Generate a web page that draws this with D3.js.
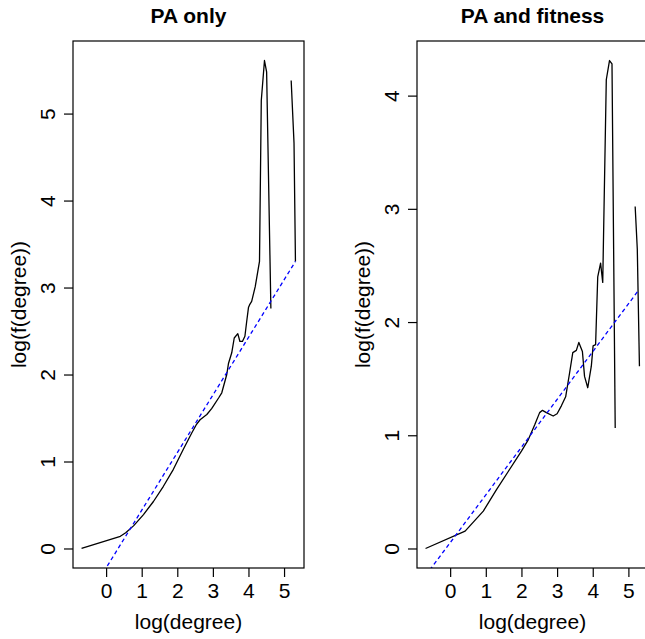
<!DOCTYPE html>
<html>
<head>
<meta charset="utf-8">
<script src="https://cdn.jsdelivr.net/npm/d3@7"></script>
<style>
  body { margin: 0; background: #fff; }
  svg { display: block; }
  text { font-family: "Liberation Sans", Arial, Helvetica, sans-serif; fill: #000; }
</style>
</head>
<body>
<div id="chart"></div>
<script>
// chart values
var paX = [-0.69, 0.40, 0.55, 0.77, 1.05, 1.33, 1.61, 1.89, 2.17, 2.41, 2.53, 2.64, 2.83, 2.97, 3.16, 3.25, 3.39, 3.44, 3.53, 3.60, 3.70, 3.76, 3.83, 3.90, 3.95, 4.00, 4.03, 4.09, 4.19, 4.31, 4.36, 4.45, 4.51, 4.63, 4.90, 5.20, 5.28, 5.32];
var paY = [0, 0.14, 0.18, 0.26, 0.39, 0.54, 0.715, 0.91, 1.14, 1.33, 1.42, 1.48, 1.54, 1.61, 1.73, 1.79, 2.00, 2.13, 2.25, 2.42, 2.47, 2.38, 2.38, 2.44, 2.61, 2.77, 2.80, 2.84, 3.01, 3.30, 5.15, 5.61, 5.48, 2.76, null, 5.38, 4.66, 3.30];
var paFitX = [-0.69, 5.32];
var paFitY = [-0.68, 3.30];

var pfX = [-0.69, 0.42, 0.93, 1.30, 1.63, 2.00, 2.19, 2.37, 2.51, 2.59, 2.70, 2.89, 3.00, 3.12, 3.24, 3.35, 3.44, 3.54, 3.61, 3.71, 3.77, 3.86, 3.96, 4.01, 4.08, 4.14, 4.22, 4.28, 4.38, 4.47, 4.54, 4.63, 4.90, 5.19, 5.25, 5.31];
var pfY = [0, 0.153, 0.33, 0.52, 0.68, 0.86, 0.96, 1.09, 1.20, 1.22, 1.20, 1.17, 1.19, 1.26, 1.34, 1.55, 1.73, 1.75, 1.82, 1.74, 1.52, 1.42, 1.61, 1.79, 1.80, 2.40, 2.52, 2.35, 4.14, 4.31, 4.28, 1.065, null, 3.02, 2.64, 1.61];
var pfFitX = [-0.69, 5.26];
var pfFitY = [-0.24, 2.27];

var titles = ["PA only", "PA and fitness"];
var xTicks = [0, 1, 2, 3, 4, 5];
var paYTicks = [0, 1, 2, 3, 4, 5];
var pfYTicks = [0, 1, 2, 3, 4];
var xLabel = "log(degree)";
var yLabel = "log(f(degree))";

var W = 645, H = 639;
var svg = d3.select("#chart").append("svg")
    .attr("width", W)
    .attr("height", H);

// R style range: data extent plus 4%
function pad(ext) {
  var d = (ext[1] - ext[0]) * 0.04;
  return [ext[0] - d, ext[1] + d];
}

function panel(id, left, xs, ys, fx, fy, yTicks, title) {
  var top = 41, bottom = 568, right = left + 231;
  var x = d3.scaleLinear().domain(pad(d3.extent(xs))).range([left, right]);
  var y = d3.scaleLinear().domain(pad(d3.extent(ys.filter(function(v) { return v != null; })))).range([bottom, top]);

  svg.append("clipPath").attr("id", "clip" + id)
    .append("rect").attr("x", left).attr("y", top)
    .attr("width", right - left).attr("height", bottom - top);

  var pts = xs.map(function(v, i) { return {x: v, y: ys[i]}; });
  var line = d3.line()
    .defined(function(d) { return d.y != null; })
    .x(function(d) { return x(d.x); })
    .y(function(d) { return y(d.y); });

  svg.append("path")
    .datum(pts)
    .attr("d", line)
    .attr("fill", "none")
    .attr("stroke", "#000")
    .attr("stroke-width", 1.3)
    .attr("stroke-linejoin", "round");

  var fit = fx.map(function(v, i) { return {x: v, y: fy[i]}; });
  svg.append("path")
    .datum(fit)
    .attr("clip-path", "url(#clip" + id + ")")
    .attr("d", line)
    .attr("fill", "none")
    .attr("stroke", "#0000ff")
    .attr("stroke-width", 1.3)
    .attr("stroke-dasharray", "4,3");

  // box
  svg.append("rect")
    .attr("x", left).attr("y", top)
    .attr("width", right - left).attr("height", bottom - top)
    .attr("fill", "none").attr("stroke", "#000").attr("stroke-width", 1.2);

  // x axis
  var gx = svg.append("g")
    .attr("transform", "translate(0," + bottom + ")")
    .call(d3.axisBottom(x).tickValues(xTicks).tickSize(9).tickPadding(6).tickFormat(d3.format("d")));
  gx.select(".domain").remove();
  gx.selectAll("line").attr("stroke-width", 1.2);
  gx.selectAll("text").style("font-size", "21px")
    .style("font-family", "'Liberation Sans', Arial, sans-serif");

  // y axis, labels turned like R's default
  var gy = svg.append("g")
    .attr("transform", "translate(" + left + ",0)")
    .call(d3.axisLeft(y).tickValues(yTicks).tickSize(9).tickFormat(d3.format("d")));
  gy.select(".domain").remove();
  gy.selectAll("line").attr("stroke-width", 1.2);
  gy.selectAll("text").remove();
  gy.selectAll(".tick").append("text")
    .attr("transform", "translate(-18,0) rotate(-90)")
    .attr("text-anchor", "middle")
    .attr("fill", "#000")
    .style("font-size", "21px")
    .style("font-family", "'Liberation Sans', Arial, sans-serif")
    .text(function(d) { return d; });

  svg.append("text")
    .attr("x", (left + right) / 2).attr("y", 629)
    .attr("text-anchor", "middle")
    .style("font-size", "21px")
    .text(xLabel);

  svg.append("text")
    .attr("transform", "translate(" + (left - 47) + "," + ((top + bottom) / 2) + ") rotate(-90)")
    .attr("text-anchor", "middle")
    .style("font-size", "21px")
    .text(yLabel);

  svg.append("text")
    .attr("x", (left + right) / 2).attr("y", 23)
    .attr("text-anchor", "middle")
    .style("font-size", "21px")
    .style("font-weight", "bold")
    .text(title);
}

panel("a", 73, paX, paY, paFitX, paFitY, paYTicks, titles[0]);
panel("b", 417, pfX, pfY, pfFitX, pfFitY, pfYTicks, titles[1]);
</script>
</body>
</html>
